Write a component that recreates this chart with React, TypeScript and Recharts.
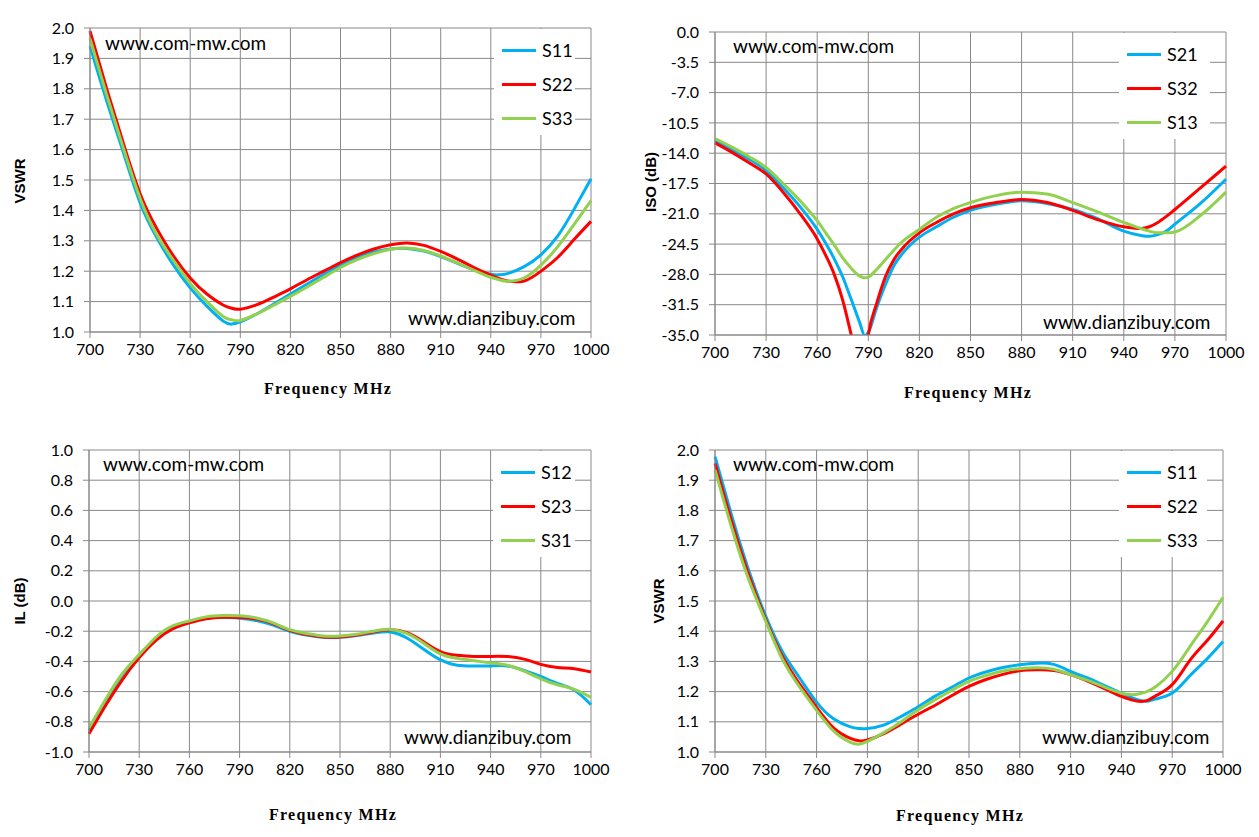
import React from 'react';
import { LineChart, Line, XAxis, YAxis, CartesianGrid } from 'recharts';

// ---------- shared ticks ----------
const FREQ_TICKS = [700, 730, 760, 790, 820, 850, 880, 910, 940, 970, 1000];
const VSWR_TICKS = [1.0, 1.1, 1.2, 1.3, 1.4, 1.5, 1.6, 1.7, 1.8, 1.9, 2.0];
const ISO_TICKS = [0, -3.5, -7, -10.5, -14, -17.5, -21, -24.5, -28, -31.5, -35];
const IL_TICKS = [1.0, 0.8, 0.6, 0.4, 0.2, 0, -0.2, -0.4, -0.6, -0.8, -1.0];

// ---------- panel 1: VSWR ----------
const vswr1Freq = [700, 710, 720, 730, 740, 750, 760, 770, 780, 785, 790, 800, 810, 820, 830, 840, 850, 860, 870, 880, 890, 900, 910, 920, 930, 940, 945, 950, 960, 970, 980, 990, 1000];
const vswr1S11 = [1.94, 1.76, 1.59, 1.425, 1.31, 1.22, 1.145, 1.085, 1.035, 1.026, 1.033, 1.06, 1.092, 1.125, 1.158, 1.19, 1.22, 1.245, 1.263, 1.273, 1.275, 1.266, 1.248, 1.226, 1.205, 1.19, 1.188, 1.192, 1.215, 1.254, 1.315, 1.405, 1.504];
const vswr1S22 = [1.99, 1.80, 1.62, 1.455, 1.34, 1.25, 1.178, 1.125, 1.088, 1.078, 1.075, 1.09, 1.115, 1.142, 1.172, 1.2, 1.228, 1.253, 1.273, 1.287, 1.293, 1.285, 1.265, 1.24, 1.212, 1.187, 1.176, 1.168, 1.168, 1.2, 1.245, 1.305, 1.364];
const vswr1S33 = [1.965, 1.78, 1.605, 1.44, 1.32, 1.235, 1.16, 1.1, 1.05, 1.04, 1.038, 1.06, 1.088, 1.117, 1.148, 1.18, 1.212, 1.238, 1.258, 1.272, 1.276, 1.268, 1.25, 1.227, 1.203, 1.18, 1.172, 1.167, 1.178, 1.22, 1.28, 1.355, 1.432];

// ---------- panel 2: ISO ----------
const isoFreq = [700, 710, 720, 730, 740, 750, 760, 765, 770, 775, 780, 785, 788, 790, 795, 800, 805, 810, 820, 830, 840, 850, 865, 880, 895, 910, 925, 940, 950, 955, 960, 965, 970, 985, 1000];
const isoS21 = [-12.6, -13.6, -14.7, -16.0, -18.0, -20.2, -22.8, -24.4, -26.2, -28.3, -30.9, -33.6, -35.1, -34.7, -31.8, -29.2, -27.0, -25.6, -23.7, -22.5, -21.4, -20.6, -19.9, -19.5, -19.8, -20.5, -21.6, -23.0, -23.5, -23.6, -23.4, -23.0, -22.2, -19.8, -17.0];
const isoS32 = [-12.8, -13.9, -15.1, -16.4, -18.5, -21.0, -23.9, -25.8, -28.0, -31.0, -35.0, -39.0, -38.0, -35.0, -31.3, -28.3, -26.3, -25.0, -23.2, -22.0, -21.0, -20.3, -19.7, -19.35, -19.7, -20.6, -21.7, -22.5, -22.7, -22.5, -22.0, -21.3, -20.5, -18.0, -15.5];
const isoS13 = [-12.3, -13.3, -14.4, -15.65, -17.5, -19.5, -21.8, -23.2, -24.6, -26.1, -27.3, -28.2, -28.4, -28.3, -27.4, -26.3, -25.2, -24.2, -22.8, -21.4, -20.4, -19.7, -18.9, -18.5, -18.7, -19.7, -20.8, -22.0, -22.7, -23.0, -23.2, -23.2, -23.1, -21.2, -18.5];

// ---------- panel 3: IL ----------
const ilFreq = [700, 710, 720, 730, 740, 750, 760, 770, 780, 790, 800, 810, 820, 830, 840, 850, 860, 870, 880, 890, 900, 910, 920, 930, 940, 950, 960, 970, 980, 990, 1000];
const ilS12 = [-0.86, -0.67, -0.49, -0.36, -0.245, -0.17, -0.135, -0.115, -0.108, -0.115, -0.13, -0.16, -0.2, -0.225, -0.24, -0.24, -0.228, -0.212, -0.205, -0.245, -0.32, -0.39, -0.425, -0.43, -0.43, -0.43, -0.46, -0.5, -0.545, -0.59, -0.687];
const ilS23 = [-0.88, -0.69, -0.52, -0.375, -0.26, -0.185, -0.145, -0.118, -0.108, -0.11, -0.12, -0.15, -0.195, -0.222, -0.238, -0.238, -0.225, -0.205, -0.19, -0.21, -0.27, -0.335, -0.36, -0.368, -0.367, -0.368, -0.385, -0.42, -0.44, -0.448, -0.47];
const ilS31 = [-0.84, -0.65, -0.48, -0.355, -0.24, -0.165, -0.132, -0.105, -0.096, -0.098, -0.112, -0.145, -0.19, -0.215, -0.232, -0.232, -0.22, -0.2, -0.188, -0.215, -0.28, -0.35, -0.38, -0.395, -0.41, -0.425, -0.465, -0.515, -0.555, -0.585, -0.638];

// ---------- panel 4: VSWR ----------
const vswr2Freq = [700, 710, 720, 730, 740, 750, 760, 770, 780, 785, 790, 800, 810, 820, 830, 840, 850, 860, 870, 880, 890, 900, 910, 920, 930, 940, 946, 950, 955, 960, 970, 980, 990, 1000];
const vswr2S11 = [1.978, 1.78, 1.60, 1.449, 1.33, 1.245, 1.165, 1.11, 1.083, 1.078, 1.078, 1.09, 1.118, 1.15, 1.185, 1.215, 1.245, 1.265, 1.28, 1.289, 1.294, 1.29, 1.267, 1.245, 1.22, 1.195, 1.18, 1.172, 1.168, 1.175, 1.195, 1.25, 1.305, 1.366];
const vswr2S22 = [1.956, 1.76, 1.585, 1.438, 1.315, 1.225, 1.148, 1.08, 1.045, 1.037, 1.04, 1.062, 1.093, 1.125, 1.155, 1.187, 1.217, 1.24, 1.257, 1.269, 1.272, 1.27, 1.256, 1.235, 1.21, 1.184, 1.173, 1.168, 1.17, 1.185, 1.223, 1.3, 1.365, 1.434];
const vswr2S33 = [1.934, 1.74, 1.57, 1.432, 1.305, 1.215, 1.138, 1.07, 1.032, 1.026, 1.035, 1.065, 1.1, 1.14, 1.173, 1.205, 1.234, 1.253, 1.268, 1.276, 1.279, 1.274, 1.256, 1.237, 1.215, 1.195, 1.19, 1.192, 1.2, 1.215, 1.267, 1.345, 1.425, 1.512];

const BLUE = '#00B0F0';
const RED = '#FF0000';
const GREEN = '#92D050';
const GRID = '#898989';

const TICK_FONT = 'Lato, "Open Sans", sans-serif';

type Series = { key: string; name: string; color: string; values: number[] };
type Cfg = {
  x1: number; x2: number; y1: number; y2: number;
  domain: [number, number]; ticks: number[];
  freq: number[]; series: Series[]; curve: 'monotone' | 'natural';
  yLabel: string; yLabelX: number; yLabelY: number;
  xLabelX: number; xLabelY: number;
  wm1X: number; wm1Y: number; wm2X: number; wm2Y: number;
};

const panels: Cfg[] = [
  {
    x1: 90, x2: 591, y1: 28, y2: 332, domain: [1, 2], ticks: VSWR_TICKS, freq: vswr1Freq, curve: 'natural',
    series: [
      { key: 'a', name: 'S11', color: BLUE, values: vswr1S11 },
      { key: 'b', name: 'S22', color: RED, values: vswr1S22 },
      { key: 'c', name: 'S33', color: GREEN, values: vswr1S33 },
    ],
    yLabel: 'VSWR', yLabelX: 19, yLabelY: 181, xLabelX: 328, xLabelY: 389,
    wm1X: 105, wm1Y: 43, wm2X: 408, wm2Y: 318,
  },
  {
    x1: 715, x2: 1226, y1: 32, y2: 335, domain: [-35, 0], ticks: ISO_TICKS, freq: isoFreq, curve: 'monotone',
    series: [
      { key: 'a', name: 'S21', color: BLUE, values: isoS21 },
      { key: 'b', name: 'S32', color: RED, values: isoS32 },
      { key: 'c', name: 'S13', color: GREEN, values: isoS13 },
    ],
    yLabel: 'ISO (dB)', yLabelX: 650, yLabelY: 182, xLabelX: 968, xLabelY: 393,
    wm1X: 733, wm1Y: 46, wm2X: 1043, wm2Y: 322,
  },
  {
    x1: 89, x2: 591, y1: 450, y2: 752, domain: [-1, 1], ticks: IL_TICKS, freq: ilFreq, curve: 'natural',
    series: [
      { key: 'a', name: 'S12', color: BLUE, values: ilS12 },
      { key: 'b', name: 'S23', color: RED, values: ilS23 },
      { key: 'c', name: 'S31', color: GREEN, values: ilS31 },
    ],
    yLabel: 'IL (dB)', yLabelX: 19, yLabelY: 601, xLabelX: 333, xLabelY: 815,
    wm1X: 103, wm1Y: 464, wm2X: 404, wm2Y: 737,
  },
  {
    x1: 715, x2: 1223, y1: 450, y2: 752, domain: [1, 2], ticks: VSWR_TICKS, freq: vswr2Freq, curve: 'natural',
    series: [
      { key: 'a', name: 'S11', color: BLUE, values: vswr2S11 },
      { key: 'b', name: 'S22', color: RED, values: vswr2S22 },
      { key: 'c', name: 'S33', color: GREEN, values: vswr2S33 },
    ],
    yLabel: 'VSWR', yLabelX: 658, yLabelY: 601, xLabelX: 960, xLabelY: 816,
    wm1X: 733, wm1Y: 464, wm2X: 1042, wm2Y: 737,
  },
];

const PL = 90, PT = 10, PR = 40, PB = 40, XH = 30, YW = 70;

function Panel({ cfg }: { cfg: Cfg }) {
  const w = cfg.x2 - cfg.x1 + PL + PR;
  const h = cfg.y2 - cfg.y1 + PT + PB;
  const rows = cfg.freq.map((f, i) => {
    const r: any = { f };
    cfg.series.forEach((s) => { r[s.key] = s.values[i]; });
    return r;
  });
  return (
    <div style={{ position: 'absolute', left: cfg.x1 - PL, top: cfg.y1 - PT, width: w, height: h }}>
      <LineChart width={w} height={h} data={rows} margin={{ top: PT, right: PR, bottom: PB - XH, left: PL - YW }}>
        <CartesianGrid stroke={GRID} strokeWidth={1} />
        <XAxis
          type="number" dataKey="f" domain={[700, 1000]} ticks={FREQ_TICKS} interval={0}
          height={XH} tickSize={6} tickMargin={6}
          axisLine={{ stroke: GRID }} tickLine={{ stroke: GRID }}
          tick={{ fill: '#000', fontSize: 16, fontFamily: TICK_FONT }}
        />
        <YAxis
          type="number" domain={cfg.domain} ticks={cfg.ticks} interval={0} allowDataOverflow
          width={YW} tickSize={6} tickMargin={10}
          axisLine={{ stroke: GRID }} tickLine={{ stroke: GRID }}
          tick={{ fill: '#000', fontSize: 16, fontFamily: TICK_FONT }}
          tickFormatter={(v: number) => v.toFixed(1)}
        />
        {cfg.series.map((s) => (
          <Line key={s.key} dataKey={s.key} name={s.name} stroke={s.color} strokeWidth={3}
            dot={false} activeDot={false} type={cfg.curve} isAnimationActive={false} />
        ))}
      </LineChart>
    </div>
  );
}

function Overlay({ cfg }: { cfg: Cfg }) {
  const legLeft = cfg.x1 + 404;
  const legRight = cfg.x2 - 16;
  const wmStyle: React.CSSProperties = {
    position: 'absolute', fontFamily: TICK_FONT, fontSize: 19, color: '#000', lineHeight: '20px', whiteSpace: 'nowrap',
  };
  return (
    <>
      <div style={{ position: 'absolute', left: legLeft, top: cfg.y1 + 1, width: legRight - legLeft, height: 106, background: '#fff' }}>
        {cfg.series.map((s, i) => (
          <div key={s.key} style={{ position: 'absolute', left: 8, top: 21 + i * 34 - 10, height: 20, display: 'flex', alignItems: 'center' }}>
            <div style={{ width: 34, height: 3, background: s.color }} />
            <div style={{ marginLeft: 6, fontFamily: TICK_FONT, fontSize: 18, color: '#000', lineHeight: '20px' }}>{s.name}</div>
          </div>
        ))}
      </div>
      <div style={{ ...wmStyle, left: cfg.wm1X, top: cfg.wm1Y - 10 }}>www.com-mw.com</div>
      <div style={{ ...wmStyle, left: cfg.wm2X, top: cfg.wm2Y - 10 }}>www.dianzibuy.com</div>
      <div style={{
        position: 'absolute', left: cfg.yLabelX, top: cfg.yLabelY, transform: 'translate(-50%, -50%) rotate(-90deg)',
        fontFamily: '"Liberation Sans", Arial, sans-serif', fontWeight: 'bold', fontSize: 15, whiteSpace: 'nowrap', color: '#000',
      }}>{cfg.yLabel}</div>
      <div style={{
        position: 'absolute', left: cfg.xLabelX, top: cfg.xLabelY, transform: 'translate(-50%, -50%)',
        fontFamily: '"Liberation Serif", serif', fontWeight: 'bold', fontSize: 16, letterSpacing: 1.3, whiteSpace: 'nowrap', color: '#000',
      }}>Frequency MHz</div>
    </>
  );
}

export default function App() {
  return (
    <div style={{ position: 'absolute', left: 0, top: 0, width: 1259, height: 837, background: '#fff', overflow: 'hidden' }}>
      {panels.map((p, i) => <Panel key={i} cfg={p} />)}
      {panels.map((p, i) => <Overlay key={'o' + i} cfg={p} />)}
    </div>
  );
}
